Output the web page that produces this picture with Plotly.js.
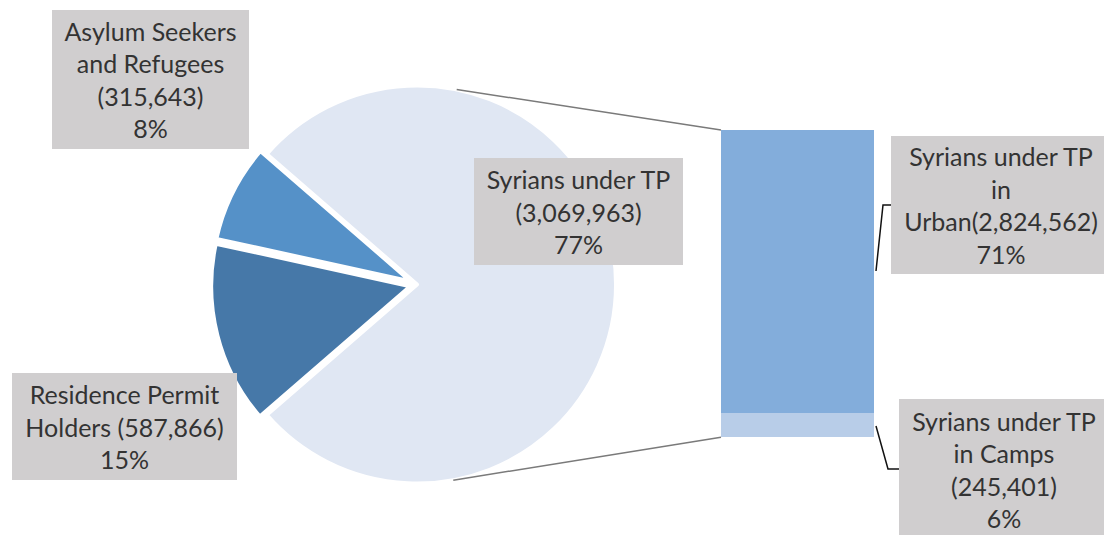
<!DOCTYPE html>
<html>
<head>
<meta charset="utf-8">
<script src="https://cdn.plot.ly/plotly-3.0.1.min.js"></script>
<style>html,body{margin:0;padding:0;background:#fff;}#chart{width:1104px;height:535px;}</style>
</head>
<body>
<div id="chart"></div>
<script>
// ---- data ----
const pieLabels = ["Syrians under TP", "Residence Permit Holders", "Asylum Seekers and Refugees"];
const pieValues = [3069963, 587866, 315643];
const pieColors = ["#E0E7F3", "#4678A8", "#5591C8"];
const piePull = [0, 0.035, 0.035];

const barCategory = ["Syrians under TP"];
const barLabels = ["Syrians under TP in Camps", "Syrians under TP in Urban"];
const barValues = [245401, 2824562];
const barColors = ["#B8CDE8", "#83ADDB"];

const boxTexts = [
  "Asylum Seekers<br>and Refugees<br>(315,643)<br>8%",
  "Residence Permit<br>Holders (587,866)<br>15%",
  "Syrians under TP<br>(3,069,963)<br>77%",
  "Syrians under TP<br>in<br>Urban(2,824,562)<br>71%",
  "Syrians under TP<br>in Camps<br>(245,401)<br>6%"
];

// ---- layout geometry (pixels) ----
const W = 1104, H = 535;
const px = x => x / W;
const py = y => 1 - y / H;

const cx = 417, cy = 284.5, half = 206;
const maxPull = Math.max(...piePull);
const rPie = (2 * half) / (2 + 2 * maxPull);

const barX0 = 721, barX1 = 874, barYTop = 130, barYBot = 437.3;

const total = barValues.reduce((a, b) => a + b, 0);
const pieTotal = pieValues.reduce((a, b) => a + b, 0);
const rotation = 90 - (pieValues[0] / pieTotal) * 360 / 2;

const traces = [
  {
    type: "pie",
    labels: pieLabels,
    values: pieValues,
    sort: false,
    direction: "clockwise",
    rotation: rotation,
    pull: piePull,
    marker: { colors: pieColors, line: { color: "#ffffff", width: 4 } },
    textinfo: "none",
    hoverinfo: "label+value+percent",
    showlegend: false,
    domain: { x: [px(cx - half), px(cx + half)], y: [py(cy + half), py(cy - half)] }
  }
];
barValues.forEach((v, i) => {
  traces.push({
    type: "bar",
    x: barCategory,
    y: [v],
    name: barLabels[i],
    marker: { color: barColors[i], line: { width: 0 } },
    width: 1,
    showlegend: false,
    hoverinfo: "name+y",
    xaxis: "x",
    yaxis: "y"
  });
});

function piePoint(deg) {
  const a = deg * Math.PI / 180;
  return [cx + rPie * Math.sin(a), cy - rPie * Math.cos(a)];
}
const pTop = piePoint(11.5), pBot = piePoint(169.5);

const shapes = [
  { type: "line", xref: "paper", yref: "paper", x0: px(pTop[0]), y0: py(pTop[1]), x1: px(barX0), y1: py(barYTop), line: { color: "#7a7a7a", width: 1.5 } },
  { type: "line", xref: "paper", yref: "paper", x0: px(pBot[0]), y0: py(pBot[1]), x1: px(barX0), y1: py(barYBot), line: { color: "#7a7a7a", width: 1.5 } },
  { type: "path", xref: "paper", yref: "paper",
    path: `M ${px(876)} ${py(271)} L ${px(883)} ${py(205)} L ${px(891)} ${py(205)}`, line: { color: "#111", width: 1.5 } },
  { type: "path", xref: "paper", yref: "paper",
    path: `M ${px(876)} ${py(426)} L ${px(888)} ${py(469)} L ${px(899)} ${py(469)}`, line: { color: "#111", width: 1.5 } }
];

const boxes = [
  { cx: 150.5, cy: 79.5, w: 197, h: 139 },
  { cx: 124.5, cy: 426.5, w: 225, h: 107 },
  { cx: 578.5, cy: 211.5, w: 209, h: 107 },
  { cx: 1001, cy: 205, w: 220, h: 138 },
  { cx: 1004, cy: 469.5, w: 210, h: 141 }
];
const annotations = boxes.map((b, i) => ({
  xref: "paper", yref: "paper",
  x: px(b.cx), y: py(b.cy),
  xanchor: "center", yanchor: "middle",
  text: boxTexts[i],
  showarrow: false,
  width: b.w, height: b.h,
  align: "center", valign: "middle",
  bgcolor: "#D0CECF",
  borderpad: 0, borderwidth: 0,
  font: { family: "Lato, 'Open Sans', sans-serif", size: 25, color: "#333333" }
}));

const layout = {
  width: W, height: H,
  margin: { l: 0, r: 0, t: 0, b: 0 },
  paper_bgcolor: "#ffffff",
  plot_bgcolor: "rgba(0,0,0,0)",
  barmode: "stack",
  bargap: 0,
  xaxis: { domain: [px(barX0), px(barX1)], range: [-0.5, 0.5], visible: false, fixedrange: true },
  yaxis: { domain: [py(barYBot), py(barYTop)], range: [0, total], visible: false, fixedrange: true },
  shapes: shapes,
  annotations: annotations,
  showlegend: false
};

Plotly.newPlot("chart", traces, layout, { displayModeBar: false, staticPlot: true });
</script>
</body>
</html>
